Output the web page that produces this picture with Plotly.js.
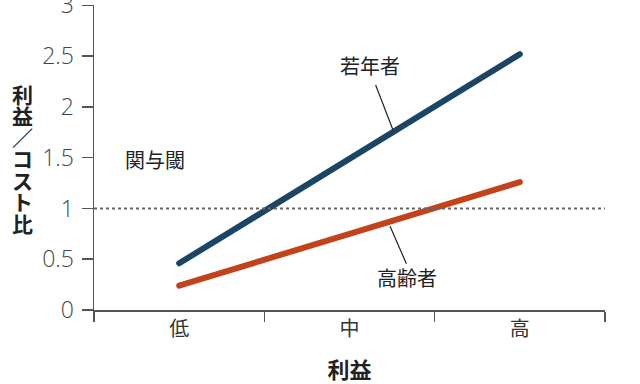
<!DOCTYPE html>
<html>
<head>
<meta charset="utf-8">
<script src="https://cdn.plot.ly/plotly-3.0.1.min.js"></script>
<style>
html,body{margin:0;padding:0;background:#fff;}
#chart{width:640px;height:384px;}
.scatterlayer path.js-line{stroke-linecap:round;}
</style>
</head>
<body>
<div id="chart"></div>
<script>
const categories = ['低', '中', '高'];
const youngValues = [0.46, 1.49, 2.52];
const olderValues = [0.24, 0.75, 1.26];
const thresholdValue = 1;
const yTickVals = [0, 0.5, 1, 1.5, 2, 2.5, 3];
const yTickText = ['0', '0.5', '1', '1.5', '2', '2.5', '3'];
const yTitleChars = ['利', '益', '／', 'コ', 'ス', 'ト', '比'];

const jpFont = '"Noto Sans CJK JP", "Noto Sans", sans-serif';

const traces = [
  {
    x: categories, y: youngValues, type: 'scatter', mode: 'lines',
    line: {color: '#1b4564', width: 6}, name: '若年者', hoverinfo: 'skip'
  },
  {
    x: categories, y: olderValues, type: 'scatter', mode: 'lines',
    line: {color: '#c2421c', width: 6}, name: '高齢者', hoverinfo: 'skip'
  }
];

const yTitleAnnotations = yTitleChars.map((ch, i) => ({
  xref: 'paper', yref: 'paper', x: -0.14, y: 0.498, xanchor: 'center', yanchor: 'middle',
  yshift: -(i - (yTitleChars.length - 1) / 2) * 21.5,
  text: ch, showarrow: false,
  font: {family: jpFont, size: 21, color: '#222', weight: 'bold'}
}));

const layout = {
  width: 640, height: 384,
  margin: {l: 94, r: 35, t: 5, b: 74},
  paper_bgcolor: '#fff', plot_bgcolor: '#fff',
  showlegend: false,
  font: {family: jpFont, color: '#333'},
  xaxis: {
    type: 'category',
    tickson: 'boundaries',
    range: [-0.5, 2.5],
    showgrid: false, zeroline: false,
    showline: true, linecolor: '#555', linewidth: 1.5,
    ticks: 'outside', ticklen: 10, tickcolor: '#555', tickwidth: 1.5,
    tickfont: {family: jpFont, size: 20, color: '#333'},
    title: {text: '利益', font: {family: jpFont, size: 22, color: '#222', weight: 'bold'}, standoff: 26}
  },
  yaxis: {
    range: [0, 3.004],
    tickvals: yTickVals, ticktext: yTickText,
    showgrid: false, zeroline: false,
    showline: true, linecolor: '#555', linewidth: 1.5,
    ticks: 'outside', ticklen: 11, tickcolor: '#555', tickwidth: 1.5,
    tickfont: {family: '"Open Sans", sans-serif', size: 23, color: '#444', weight: 300},
    ticklabelstandoff: 3,
    ticklabeloverflow: 'allow'
  },
  shapes: [
    {
      type: 'line', xref: 'paper', x0: 0, x1: 1, yref: 'y', y0: thresholdValue, y1: thresholdValue,
      line: {color: '#666', width: 2, dash: 'dot'}
    }
  ],
  annotations: yTitleAnnotations.concat([
    {
      xref: 'x', yref: 'y', x: 1.256, y: 1.77, ax: 1.15, ay: 2.23, axref: 'x', ayref: 'y',
      text: '', showarrow: true, arrowhead: 0, arrowwidth: 1.2, arrowcolor: '#222'
    },
    {
      xref: 'paper', yref: 'paper', x: 0.54, y: 0.801, xanchor: 'center', yanchor: 'middle',
      text: '若年者', showarrow: false,
      font: {family: jpFont, size: 20, color: '#222'}
    },
    {
      xref: 'x', yref: 'y', x: 1.238, y: 0.826, ax: 1.338, ay: 0.44, axref: 'x', ayref: 'y',
      text: '', showarrow: true, arrowhead: 0, arrowwidth: 1.2, arrowcolor: '#222'
    },
    {
      xref: 'paper', yref: 'paper', x: 0.612, y: 0.105, xanchor: 'center', yanchor: 'middle',
      text: '高齢者', showarrow: false,
      font: {family: jpFont, size: 20, color: '#222'}
    },
    {
      xref: 'paper', yref: 'paper', x: 0.119, y: 0.492, xanchor: 'center', yanchor: 'middle',
      text: '関与閾', showarrow: false,
      font: {family: jpFont, size: 20, color: '#222'}
    }
  ])
};

Plotly.newPlot('chart', traces, layout, {staticPlot: true, displayModeBar: false});
</script>
</body>
</html>
